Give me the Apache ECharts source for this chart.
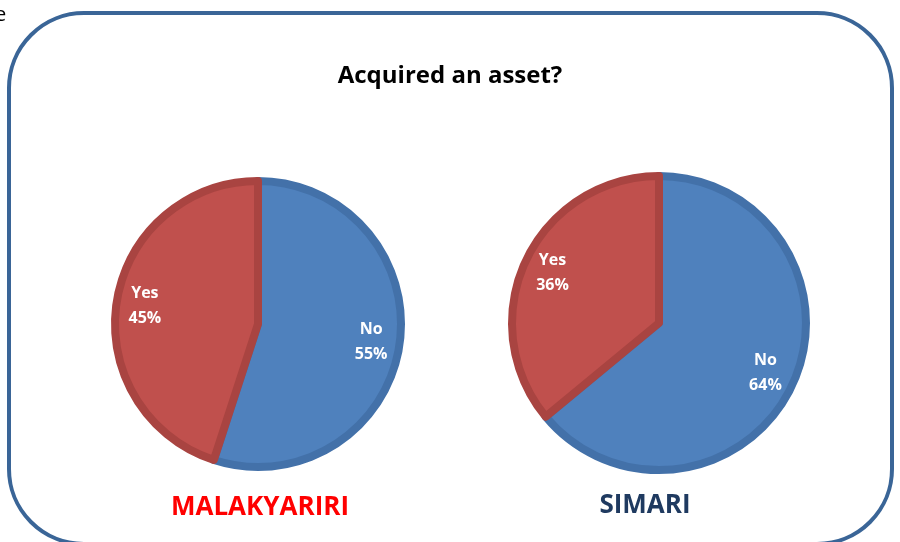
<!DOCTYPE html>
<html lang="en">

<head>
    <meta charset="UTF-8">
    <title>Acquired an asset?</title>
    <script src="https://cdn.jsdelivr.net/npm/echarts@6/dist/echarts.min.js"></script>
</head>
<style>
    html,
    body {
        margin: 0;
        width: 100%;
        height: 100%;
        background: #ffffff;
    }

    #main {
        width: 900px;
        height: 542px;
    }
</style>

<body>
    <div id="main"></div>
    <script>
        // data
        var answers = ['No', 'Yes']
        var malakyaririValues = [55, 45]
        var simariValues = [64, 36]
        var places = ['MALAKYARIRI', 'SIMARI']

        var fills = ['#4f81bd', '#c0504d']
        var edges = ['#4371a9', '#a94441']

        function toData(values) {
            return answers.map(function (name, i) {
                return {
                    name: name,
                    value: values[i],
                    itemStyle: { color: fills[i], borderColor: edges[i] }
                }
            })
        }

        // base pie + a transparent ring on top just for label placement
        function pies(values, center, r) {
            return [{
                type: 'pie',
                center: center,
                radius: r,
                startAngle: 90,
                silent: true,
                label: { show: false },
                labelLine: { show: false },
                itemStyle: { borderWidth: 8 },
                data: toData(values)
            }, {
                type: 'pie',
                center: center,
                radius: [r * 0.56, r],
                startAngle: 90,
                silent: true,
                itemStyle: { color: 'transparent', borderWidth: 0 },
                label: {
                    show: true,
                    position: 'inside',
                    formatter: '{b}\n{c}%',
                    color: '#ffffff',
                    fontFamily: 'Open Sans',
                    fontWeight: 'bold',
                    fontSize: 16,
                    lineHeight: 25
                },
                labelLine: { show: false },
                data: answers.map(function (name, i) { return { name: name, value: values[i] } })
            }]
        }

        var myChart = echarts.init(document.getElementById('main'))

        var option = {
            backgroundColor: '#ffffff',
            animation: false,
            title: {
                text: 'Acquired an asset?',
                left: 'center',
                top: 59,
                textStyle: {
                    fontFamily: 'Open Sans',
                    fontWeight: 'bold',
                    fontSize: 24,
                    color: '#000000'
                }
            },
            graphic: [{
                type: 'rect',
                shape: { x: 9, y: 13, width: 883, height: 531, r: 75 },
                style: { fill: 'none', stroke: '#3a6597', lineWidth: 4 },
                z: -1
            }, {
                type: 'text',
                left: -5,
                top: 5,
                style: { text: 'e', fontFamily: 'Open Sans', fontSize: 20, fill: '#000000' }
            }, {
                type: 'text',
                x: 260,
                y: 508,
                style: {
                    text: places[0], fill: '#ff0000', align: 'center', verticalAlign: 'middle',
                    fontFamily: 'Open Sans', fontWeight: 'bold', fontSize: 26
                }
            }, {
                type: 'text',
                x: 645,
                y: 506,
                style: {
                    text: places[1], fill: '#1f3a60', align: 'center', verticalAlign: 'middle',
                    fontFamily: 'Open Sans', fontWeight: 'bold', fontSize: 26
                }
            }],
            series: pies(malakyaririValues, [258, 324], 143)
                .concat(pies(simariValues, [659, 323], 147))
        }

        myChart.setOption(option)
    </script>
</body>

</html>
